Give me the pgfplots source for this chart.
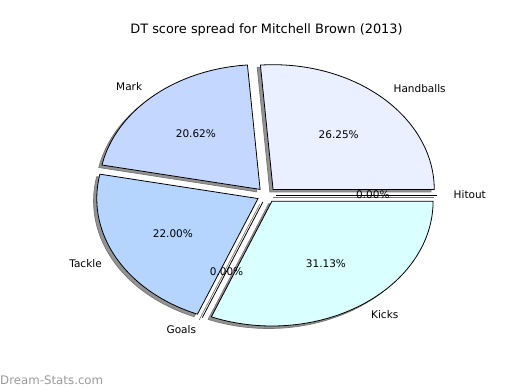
\documentclass[border=0pt]{standalone}
\usepackage{fontspec}
\setmainfont{DejaVu Sans}
\usepackage{pgfplots}
\pgfplotsset{compat=1.18}
\definecolor{cHand}{HTML}{EAF0FF}
\definecolor{cMark}{HTML}{C4D8FF}
\definecolor{cTack}{HTML}{B5D5FF}
\definecolor{cKick}{HTML}{D9FFFF}
\definecolor{shad}{HTML}{939393}
\definecolor{shadedge}{HTML}{777777}
\definecolor{wm}{HTML}{9A9A9A}
\newcommand{\lbl}{\fontsize{10.5}{12}\selectfont}
% #1 start pct, #2 pct, #3 style, #4 dx, #5 dy
\newcommand{\pwedge}[5]{%
  \pgfmathsetmacro\aS{3.6*#1}%
  \pgfmathsetmacro\aE{3.6*(#1+#2)}%
  \pgfmathsetmacro\aM{(\aS+\aE)/2}%
  \pgfmathsetmacro\ex{0.06*cos(\aM)+#4}%
  \pgfmathsetmacro\ey{0.06*sin(\aM)+#5}%
  \edef\doit{\noexpand\addplot[#3, mark=none, domain=\aS:\aE, samples=120] ({\ex+cos(x)},{\ey+sin(x)}) -- (axis cs:\ex,\ey) -- cycle;}%
  \doit}
% zero slice: #1 start pct, #2 style, #3 dx, #4 dy
\newcommand{\zline}[4]{%
  \pgfmathsetmacro\aM{3.6*#1}%
  \pgfmathsetmacro\ex{0.06*cos(\aM)+#3}%
  \pgfmathsetmacro\ey{0.06*sin(\aM)+#4}%
  \pgfmathsetmacro\fx{\ex+cos(\aM)}%
  \pgfmathsetmacro\fy{\ey+sin(\aM)}%
  \edef\doit{\noexpand\addplot[#2, mark=none] coordinates {(\ex,\ey) (\fx,\fy)};}%
  \doit}
% labels: #1 start pct, #2 pct, #3 label, #4 pct text
\newcommand{\plabel}[4]{%
  \pgfmathsetmacro\aM{3.6*(#1+#2/2)}%
  \pgfmathsetmacro\ex{0.06*cos(\aM)}%
  \pgfmathsetmacro\ey{0.06*sin(\aM)}%
  \pgfmathsetmacro\xt{\ex+1.1*cos(\aM)}%
  \pgfmathsetmacro\yt{\ey+1.1*sin(\aM)}%
  \pgfmathsetmacro\px{\ex+0.6*cos(\aM)}%
  \pgfmathsetmacro\py{\ey+0.6*sin(\aM)}%
  \pgfmathparse{\xt>0?1:0}%
  \ifdim\pgfmathresult pt>0.5pt \def\anc{west}\else\def\anc{east}\fi
  \edef\doit{\noexpand\node[anchor=\anc, font=\noexpand\lbl, inner sep=0pt] at (axis cs:\xt,\yt) {\unexpanded{#3}};
    \noexpand\node[font=\noexpand\lbl, inner sep=0pt] at (axis cs:\px,\py) {\unexpanded{#4}};}%
  \doit}
\begin{document}
\begin{tikzpicture}
\path (0,0) rectangle (520pt,390pt);
\begin{axis}[at={(65pt,39pt)}, anchor=south west, width=403pt, height=312pt,
  scale only axis, hide axis, clip=false,
  xmin=-1.25, xmax=1.25, ymin=-1.25, ymax=1.25]
% shadows (start pct, pct)
\pwedge{0}{26.25}{fill=shad, draw=shadedge, line width=0.7pt}{-0.02}{-0.02}
\pwedge{26.25}{20.62}{fill=shad, draw=shadedge, line width=0.7pt}{-0.02}{-0.02}
\pwedge{46.87}{22.00}{fill=shad, draw=shadedge, line width=0.7pt}{-0.02}{-0.02}
\zline{68.87}{draw=shadedge, line width=0.7pt}{-0.02}{-0.02}
\pwedge{68.87}{31.13}{fill=shad, draw=shadedge, line width=0.7pt}{-0.02}{-0.02}
\zline{100}{draw=shadedge, line width=0.7pt}{-0.02}{-0.02}
% wedges
\pwedge{0}{26.25}{fill=cHand, draw=black, line width=0.8pt}{0}{0}
\pwedge{26.25}{20.62}{fill=cMark, draw=black, line width=0.8pt}{0}{0}
\pwedge{46.87}{22.00}{fill=cTack, draw=black, line width=0.8pt}{0}{0}
\zline{68.87}{draw=black, line width=0.8pt}{0}{0}
\pwedge{68.87}{31.13}{fill=cKick, draw=black, line width=0.8pt}{0}{0}
\zline{100}{draw=black, line width=0.8pt}{0}{0}
% labels
\plabel{0}{26.25}{Handballs}{26.25\%}
\plabel{26.25}{20.62}{Mark}{20.62\%}
\plabel{46.87}{22.00}{Tackle}{22.00\%}
\plabel{68.87}{0}{Goals}{0.00\%}
\plabel{68.87}{31.13}{Kicks}{31.13\%}
\plabel{100}{0}{Hitout}{0.00\%}
\end{axis}
\node[font=\fontsize{12.9}{15}\selectfont, inner sep=0pt] at (266.5pt,360pt) {DT score spread for Mitchell Brown (2013)};
\node[font=\fontsize{11.8}{14}\selectfont, text=wm, anchor=west, inner sep=0pt] at (0pt,10pt) {Dream-Stats.com};
\pgfresetboundingbox
\path (0,0) rectangle (520pt,390pt);
\end{tikzpicture}
\end{document}
